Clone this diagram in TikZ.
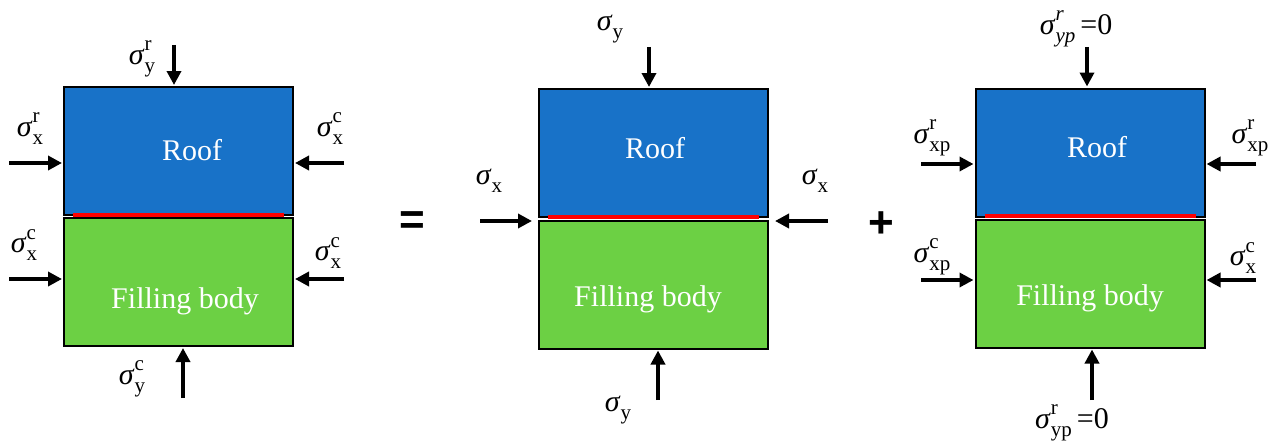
\documentclass[tikz,border=0pt]{standalone}
\usepackage{fontspec}
\setmainfont{Liberation Serif}
\newfontfamily\opfont{Liberation Sans}
\usetikzlibrary{arrows.meta}
\definecolor{roofblue}{RGB}{24,114,200}
\definecolor{fillgreen}{RGB}{108,208,68}
\newcommand{\scr}{\fontsize{21}{21}\selectfont}
\newcommand{\sg}[2]{\textit{σ}\rlap{\raisebox{0.45em}{\scr #2}}\raisebox{-0.28em}{\scr #1}}
\begin{document}
\begin{tikzpicture}[x=1pt,y=-1pt,
  blk/.style={draw=black,line width=2pt,inner sep=0pt,minimum width=229pt},
  rooft/.style={blk,fill=roofblue,minimum height=128pt},
  fillt/.style={blk,fill=fillgreen,minimum height=128pt},
  intext/.style={text=white,font=\fontsize{30}{30}\selectfont,anchor=base,inner sep=0pt},
  lbl/.style={font=\fontsize{30}{30}\selectfont,inner sep=0pt},
  force/.style={line width=4pt,-{Triangle[length=14pt,width=14pt]},shorten >=1pt},
  contact/.style={red,line width=4pt},
  op/.style={font=\opfont\bfseries\fontsize{44}{44}\selectfont,inner sep=0pt}]
\useasboundingbox (0,0) rectangle (1279,444);

% ---------- panel 1 ----------
\node[rooft] (roof1) at (178.5,151) {};
\node[fillt] (fill1) at (178.5,282) {};
\draw[contact] (73,215) coordinate (r1a) -- (284,215) coordinate (r1b);
\node[intext] (t1a) at (192,160) {Roof};
\node[intext] (t1b) at (185,308) {Filling body};
\coordinate (p1t) at (174,45);
\coordinate (p1l) at (9,163);
\coordinate (p1r) at (344,163);
\coordinate (p1fl) at (9,279);
\coordinate (p1fr) at (344,279);
\coordinate (p1b) at (183,398);
\draw[force] (p1t) -- (p1t |- roof1.north);
\draw[force] (p1l) -- (p1l -| roof1.west);
\draw[force] (p1r) -- (p1r -| roof1.east);
\draw[force] (p1fl) -- (p1fl -| fill1.west);
\draw[force] (p1fr) -- (p1fr -| fill1.east);
\draw[force] (p1b) -- (p1b |- fill1.south);
\node[lbl] (l1t) at (142,59) {\sg{y}{r}};
\node[lbl] (l1l) at (30,129) {\sg{x}{r}};
\node[lbl] (l1r) at (330,129) {\sg{x}{c}};
\node[lbl] (l1fl) at (24,245) {\sg{x}{c}};
\node[lbl] (l1fr) at (328,253) {\sg{x}{c}};
\node[lbl] (l1b) at (132,379) {\sg{y}{c}};

\node[op] (eq) at (412,223) {=};

% ---------- panel 2 ----------
\node[rooft] (roof2) at (653.5,153) {};
\node[fillt] (fill2) at (653.5,284.5) {};
\draw[contact] (548,217) coordinate (r2a) -- (759,217) coordinate (r2b);
\node[intext] (t2a) at (655,158) {Roof};
\node[intext] (t2b) at (648,306) {Filling body};
\coordinate (p2t) at (649,47);
\coordinate (p2l) at (480,221);
\coordinate (p2r) at (828,221);
\coordinate (p2b) at (658,400);
\draw[force] (p2t) -- (p2t |- roof2.north);
\draw[force,shorten >=6pt] (p2l) -- (p2l -| roof2.west);
\draw[force,shorten >=6pt] (p2r) -- (p2r -| roof2.east);
\draw[force] (p2b) -- (p2b |- fill2.south);
\node[lbl] (l2t) at (610,29) {\sg{y}{}};
\node[lbl] (l2l) at (489,181) {\sg{x}{}};
\node[lbl] (l2r) at (815,181) {\sg{x}{}};
\node[lbl] (l2b) at (618,410) {\sg{y}{}};

\node[op] (plus) at (881,225) {+};

% ---------- panel 3 ----------
\node[rooft] (roof3) at (1090,152.5) {};
\node[fillt] (fill3) at (1090,283.5) {};
\draw[contact] (985,216) coordinate (r3a) -- (1196,216) coordinate (r3b);
\node[intext] (t3a) at (1097,157) {Roof};
\node[intext] (t3b) at (1090,305) {Filling body};
\coordinate (p3t) at (1087,47);
\coordinate (p3l) at (921,164);
\coordinate (p3r) at (1256,164);
\coordinate (p3fl) at (921,280);
\coordinate (p3fr) at (1256,280);
\coordinate (p3b) at (1092,400);
\draw[force] (p3t) -- (p3t |- roof3.north);
\draw[force] (p3l) -- (p3l -| roof3.west);
\draw[force] (p3r) -- (p3r -| roof3.east);
\draw[force] (p3fl) -- (p3fl -| fill3.west);
\draw[force] (p3fr) -- (p3fr -| fill3.east);
\draw[force] (p3b) -- (p3b |- fill3.south);
\node[lbl] (l3t) at (1076,29) {\sg{\itshape yp}{\itshape r}\,=0};
\node[lbl] (l3l) at (932,138) {\sg{xp}{r}};
\node[lbl] (l3r) at (1250,138) {\sg{xp}{r}};
\node[lbl] (l3fl) at (932,257) {\sg{xp}{c}};
\node[lbl] (l3fr) at (1243,258) {\sg{x}{c}};
\node[lbl] (l3b) at (1072,423) {\sg{yp}{r}\,=0};
\end{tikzpicture}
\end{document}
